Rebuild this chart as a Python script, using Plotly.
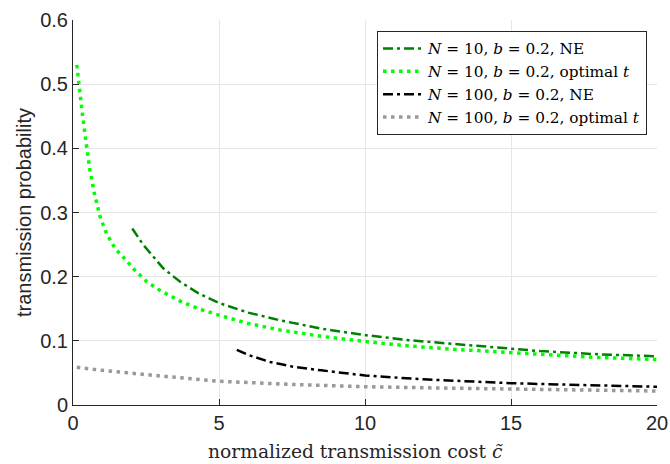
import plotly.graph_objects as go

# N=10, b=0.2, NE (dark green dash-dot)
x_n10_ne = [2.03, 2.4, 3.09, 3.67, 4.3, 5.0, 6.0, 7.09, 8.5, 10.0, 11.5, 13.0, 15.0, 16.0, 18.0, 20.0]
y_n10_ne = [0.275, 0.250, 0.213, 0.192, 0.174, 0.159, 0.144, 0.132, 0.119, 0.109, 0.101, 0.095, 0.087, 0.084, 0.079, 0.076]

# N=10, b=0.2, optimal t (bright green dotted)
x_n10_opt = [0.13, 0.21, 0.32, 0.45, 0.58, 0.73, 0.93, 1.15, 1.44, 1.75, 2.12, 2.53, 3.0, 3.67, 4.3, 5.0, 6.0, 7.09, 8.5, 10.0, 11.5, 13.0, 15.0, 16.0, 18.0, 20.0]
y_n10_opt = [0.530, 0.496, 0.454, 0.408, 0.366, 0.330, 0.293, 0.267, 0.244, 0.229, 0.210, 0.192, 0.178, 0.162, 0.150, 0.140, 0.127, 0.117, 0.107, 0.099, 0.092, 0.087, 0.081, 0.079, 0.074, 0.071]

# N=100, b=0.2, NE (black dash-dot)
x_n100_ne = [5.61, 6.0, 6.75, 7.5, 8.5, 10.0, 12.0, 15.0, 17.5, 20.0]
y_n100_ne = [0.086, 0.078, 0.067, 0.060, 0.054, 0.046, 0.040, 0.034, 0.031, 0.0285]

# N=100, b=0.2, optimal t (gray dotted)
x_n100_opt = [0.13, 1.0, 2.64, 5.0, 7.5, 10.0, 12.5, 15.0, 17.5, 20.0]
y_n100_opt = [0.0587, 0.054, 0.0467, 0.037, 0.032, 0.0285, 0.0265, 0.025, 0.0233, 0.0218]

x_ticks = [0, 5, 10, 15, 20]
y_ticks = [0, 0.1, 0.2, 0.3, 0.4, 0.5, 0.6]
y_ticklabels = ["0", "0.1", "0.2", "0.3", "0.4", "0.5", "0.6"]

legend_names = [
    "<i>N</i> = 10, <i>b</i> = 0.2, NE",
    "<i>N</i> = 10, <i>b</i> = 0.2, optimal <i>t</i>",
    "<i>N</i> = 100, <i>b</i> = 0.2, NE",
    "<i>N</i> = 100, <i>b</i> = 0.2, optimal <i>t</i>",
]
x_title = "normalized transmission cost <i>c\u0303</i>"
y_title = "transmission probability"

dashdot = "10px,4px,3px,4px"
dotted = "3.5px,4.5px"

fig = go.Figure()
fig.add_trace(go.Scatter(x=x_n10_ne, y=y_n10_ne, mode="lines",
                         line=dict(color="#008000", width=2.5, dash=dashdot),
                         name=legend_names[0]))
fig.add_trace(go.Scatter(x=x_n10_opt, y=y_n10_opt, mode="lines",
                         line=dict(color="#00ff00", width=3.5, dash=dotted),
                         name=legend_names[1]))
fig.add_trace(go.Scatter(x=x_n100_ne, y=y_n100_ne, mode="lines",
                         line=dict(color="#000000", width=2.5, dash=dashdot),
                         name=legend_names[2]))
fig.add_trace(go.Scatter(x=x_n100_opt, y=y_n100_opt, mode="lines",
                         line=dict(color="#999999", width=3.5, dash=dotted),
                         name=legend_names[3]))

sans = "Liberation Sans, Arial, sans-serif"
serif = "DejaVu Serif, Liberation Serif, serif"
axis_font = dict(family=sans, size=20, color="#262626")

fig.add_annotation(text=x_title, xref="paper", yref="paper",
                   x=(355 - 73) / 584, y=-(463 - 405) / 385,
                   xanchor="center", yanchor="bottom", showarrow=False,
                   borderpad=0,
                   font=dict(family=serif, size=18.7, color="#262626"))

fig.update_layout(
    width=670, height=464,
    margin=dict(l=73, r=13, t=20, b=59),
    paper_bgcolor="white", plot_bgcolor="white",
    showlegend=True,
    legend=dict(x=(647 - 73) / 584, y=(405 - 31) / 385, xanchor="right", yanchor="top",
                bgcolor="white", bordercolor="#262626", borderwidth=1,
                font=dict(family=serif, size=15.3, color="black"),
                tracegroupgap=0, itemwidth=40),
    xaxis=dict(range=[0, 20], tickvals=x_ticks, ticktext=[str(v) for v in x_ticks],
               showgrid=True, gridcolor="#e6e6e6", gridwidth=1,
               showline=True, linecolor="#262626", linewidth=1,
               ticks="inside", ticklen=6, tickcolor="#262626",
               tickfont=axis_font, zeroline=False, automargin=False),
    yaxis=dict(range=[0, 0.6], tickvals=y_ticks, ticktext=y_ticklabels,
               showgrid=True, gridcolor="#e6e6e6", gridwidth=1,
               showline=True, linecolor="#262626", linewidth=1,
               ticks="inside", ticklen=6, tickcolor="#262626",
               tickfont=axis_font, zeroline=False, automargin=False,
               title=dict(text=y_title,
                          font=dict(family=sans, size=20, color="#262626"),
                          standoff=3)),
)

fig.write_html("out.html", config={"displayModeBar": False},
               post_script="document.body.style.margin='0';document.body.style.padding='0';")
